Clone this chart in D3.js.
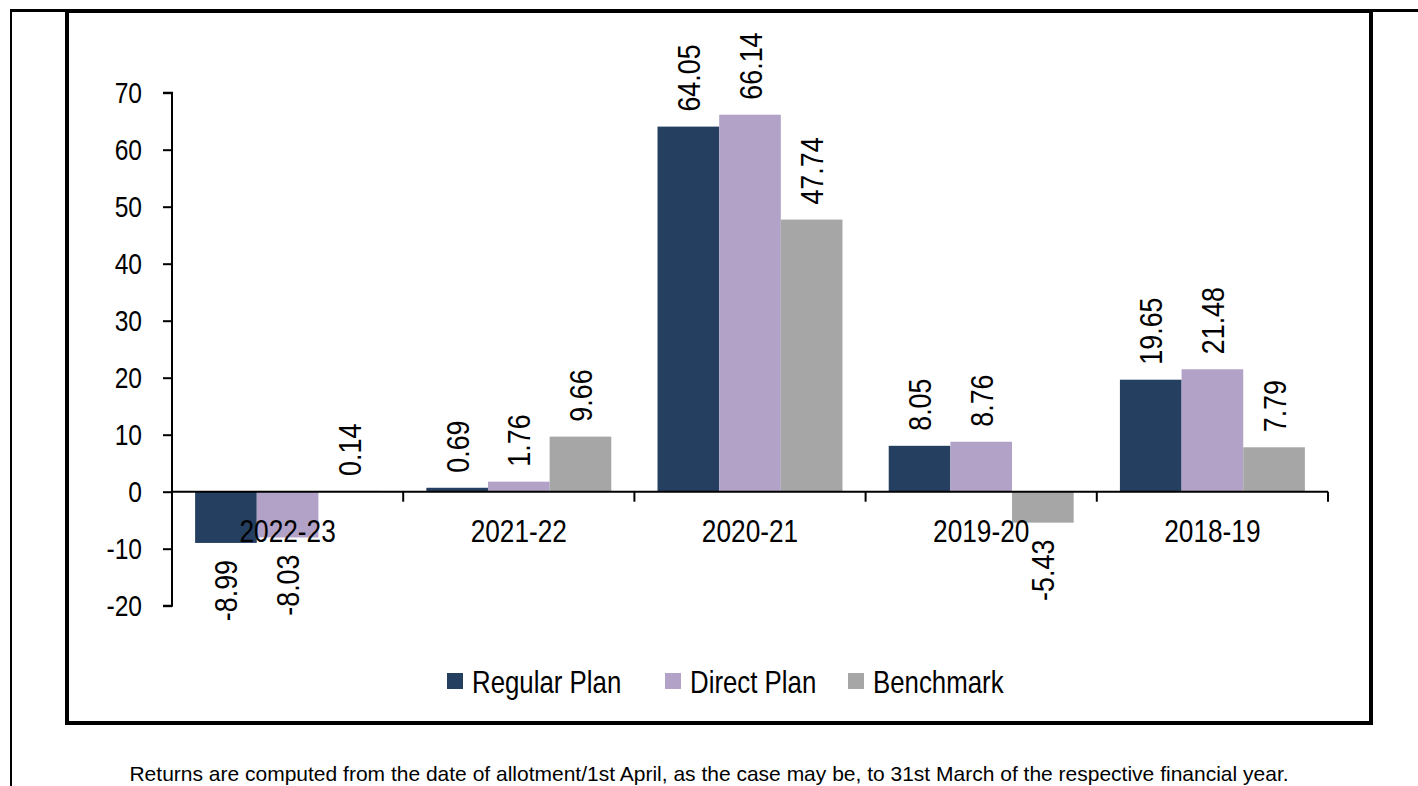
<!DOCTYPE html>
<html>
<head>
<meta charset="utf-8">
<script src="https://cdn.jsdelivr.net/npm/d3@7"></script>
<style>
  body { margin: 0; background: #fff; }
  svg text { font-family: "Liberation Sans", Arial, sans-serif; fill: #000; }
</style>
</head>
<body>
<div class="chart"></div>
<script>
// chart data
var years = ["2022-23", "2021-22", "2020-21", "2019-20", "2018-19"];
var seriesNames = ["Regular Plan", "Direct Plan", "Benchmark"];
var regularPlan = [-8.99, 0.69, 64.05, 8.05, 19.65];
var directPlan = [-8.03, 1.76, 66.14, 8.76, 21.48];
var benchmark = [0.14, 9.66, 47.74, -5.43, 7.79];
var yTicks = [-20, -10, 0, 10, 20, 30, 40, 50, 60, 70];
var colors = ["#243f60", "#b3a2c7", "#a6a6a6"];
var note = "Returns are computed from the date of allotment/1st April, as the case may be, to 31st March of the respective financial year.";

var svgWidth = 1418, svgHeight = 786;
// no narrow font installed, so squeeze the regular one
var squeeze = 0.82;

var svg = d3.select(".chart")
  .append("svg")
  .attr("width", svgWidth)
  .attr("height", svgHeight);

// frame lines
svg.append("line")
  .attr("x1", 10).attr("x2", svgWidth)
  .attr("y1", 10.5).attr("y2", 10.5)
  .attr("stroke", "#000").attr("stroke-width", 3);
svg.append("line")
  .attr("x1", 11).attr("x2", 11)
  .attr("y1", 10).attr("y2", svgHeight)
  .attr("stroke", "#000").attr("stroke-width", 2);
svg.append("rect")
  .attr("x", 67).attr("y", 11)
  .attr("width", 1304).attr("height", 712)
  .attr("fill", "none")
  .attr("stroke", "#000").attr("stroke-width", 4);

// scales
var xScale = d3.scaleBand()
  .domain(years)
  .range([172, 1328])
  .padding(0);

var yScale = d3.scaleLinear()
  .domain([-20, 70])
  .range([605.7, 92.7]);

var gap = xScale.bandwidth() * 0.1;
var xInner = d3.scaleBand()
  .domain(seriesNames)
  .range([gap, xScale.bandwidth() - gap])
  .padding(0);

var rows = [];
years.forEach(function(y, i) {
  [regularPlan[i], directPlan[i], benchmark[i]].forEach(function(v, j) {
    rows.push({ year: y, series: seriesNames[j], value: v, color: colors[j] });
  });
});

var fmt = v => v.toFixed(2);

// bars
svg.append("g").selectAll("rect")
  .data(rows)
  .enter()
  .append("rect")
  .attr("x", d => xScale(d.year) + xInner(d.series))
  .attr("y", d => yScale(Math.max(0, d.value)))
  .attr("width", xInner.bandwidth())
  .attr("height", d => Math.abs(yScale(d.value) - yScale(0)))
  .attr("fill", d => d.color);

// y axis
var yAxis = d3.axisLeft(yScale).tickValues(yTicks).tickSize(9).tickPadding(21).tickFormat(d => String(d));
var yG = svg.append("g")
  .attr("transform", "translate(172,0)")
  .call(yAxis);
yG.select(".domain").attr("d", "M-9," + yScale(70) + "H0V" + yScale(-20) + "H-9").attr("stroke-width", 2);
yG.selectAll(".tick line").attr("stroke-width", 2);
yG.selectAll("text")
  .attr("font-size", 30)
  .attr("x", -30 / squeeze)
  .attr("transform", "scale(" + squeeze + ",1)");

// x axis (at zero)
var xAxis = svg.append("g");
xAxis.append("line")
  .attr("x1", 172).attr("x2", 1328)
  .attr("y1", yScale(0)).attr("y2", yScale(0))
  .attr("stroke", "#000").attr("stroke-width", 2);
xAxis.selectAll(".xtick")
  .data(years.concat(["end"]))
  .enter()
  .append("line")
  .attr("x1", (d, i) => i < years.length ? xScale(d) : 1328)
  .attr("x2", (d, i) => i < years.length ? xScale(d) : 1328)
  .attr("y1", yScale(0)).attr("y2", yScale(0) + 10)
  .attr("stroke", "#000").attr("stroke-width", 2);
xAxis.selectAll(".xlabel")
  .data(years)
  .enter()
  .append("text")
  .attr("transform", d => "translate(" + (xScale(d) + xScale.bandwidth() / 2) + "," + (yScale(0) + 50) + ") scale(" + squeeze + ",1)")
  .attr("text-anchor", "middle")
  .attr("font-size", 32)
  .text(d => d);

// data labels
svg.append("g").selectAll("text")
  .data(rows)
  .enter()
  .append("text")
  .attr("transform", function(d) {
    var cx = xScale(d.year) + xInner(d.series) + xInner.bandwidth() / 2;
    var cy = d.value >= 0 ? yScale(d.value) - 15 : yScale(d.value) + 17;
    return "translate(" + cx + "," + cy + ") rotate(-90) scale(0.84,1)";
  })
  .attr("dy", "0.36em")
  .attr("text-anchor", d => d.value >= 0 ? "start" : "end")
  .attr("font-size", 32)
  .text(d => fmt(d.value));

// legend
var legendX = [447, 665, 848];
var legend = svg.append("g").selectAll("g")
  .data(seriesNames)
  .enter()
  .append("g")
  .attr("transform", (d, i) => "translate(" + legendX[i] + ",673)");
legend.append("rect")
  .attr("width", 16).attr("height", 16)
  .attr("fill", (d, i) => colors[i]);
legend.append("text")
  .attr("transform", "translate(25,20) scale(" + squeeze + ",1)")
  .attr("font-size", 31.5)
  .text(d => d);

// footnote
svg.append("text")
  .attr("x", 709).attr("y", 781)
  .attr("text-anchor", "middle")
  .attr("font-size", 21)
  .text(note);
</script>
</body>
</html>
